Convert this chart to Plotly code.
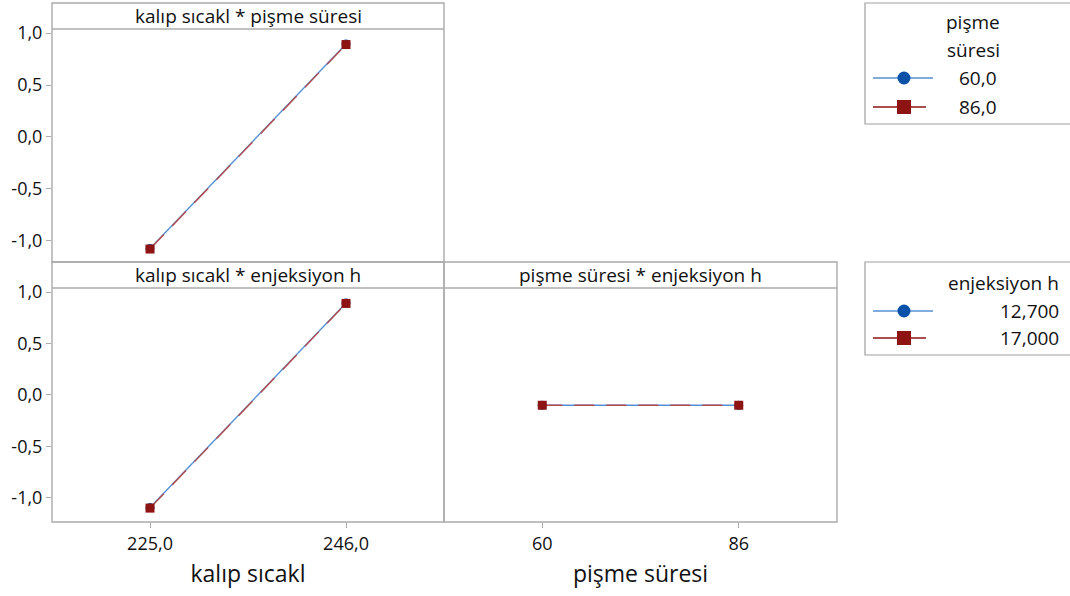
import plotly.graph_objects as go

# ---- data ----
kalip_levels = [225, 246]
pisme_levels = [60, 86]

# panel 1: kalip sicakl * pisme suresi (lines = pisme suresi levels)
p1_pisme60 = [-1.075, 0.895]
p1_pisme86 = [-1.08, 0.89]
# panel 2: kalip sicakl * enjeksiyon h (lines = enjeksiyon h levels)
p2_enj127 = [-1.095, 0.895]
p2_enj170 = [-1.10, 0.89]
# panel 3: pisme suresi * enjeksiyon h
p3_enj127 = [-0.10, -0.10]
p3_enj170 = [-0.10, -0.10]

y_tickvals = [-1.0, -0.5, 0.0, 0.5, 1.0]
y_ticktext = ["-1,0", "-0,5", "0,0", "0,5", "1,0"]
kalip_ticktext = ["225,0", "246,0"]
pisme_ticktext = ["60", "86"]
legend1_title = ["pişme", "süresi"]
legend1_labels = ["60,0", "86,0"]
legend2_title = "enjeksiyon h"
legend2_labels = ["12,700", "17,000"]
panel_titles = ["kalıp sıcakl * pişme süresi", "kalıp sıcakl * enjeksiyon h", "pişme süresi * enjeksiyon h"]

W, H = 1070, 596
def X(px): return px / W
def Y(py): return 1 - py / H

BLUE_LINE = "#5590d2"
BLUE_MK = "#0a52a8"
RED_LINE = "#b24c4c"
RED_MK = "#8e1414"
GRID = "#ababab"
FONT = "Open Sans"
TXT = "#111111"

fig = go.Figure()

def add_pair(xv, y1, y2, n1, n2, xa, ya):
    fig.add_trace(go.Scatter(x=xv, y=y1, name=n1, mode="lines+markers",
                             line=dict(color=BLUE_LINE, width=1.4),
                             marker=dict(symbol="circle", size=9, color=BLUE_MK),
                             xaxis=xa, yaxis=ya, showlegend=False))
    fig.add_trace(go.Scatter(x=xv, y=y2, name=n2, mode="lines+markers",
                             line=dict(color=RED_LINE, width=1.4, dash="20px,12px"),
                             marker=dict(symbol="square", size=9, color=RED_MK),
                             xaxis=xa, yaxis=ya, showlegend=False))

add_pair(kalip_levels, p1_pisme60, p1_pisme86, legend1_labels[0], legend1_labels[1], "x", "y")
add_pair(kalip_levels, p2_enj127, p2_enj170, legend2_labels[0], legend2_labels[1], "x2", "y2")
add_pair(pisme_levels, p3_enj127, p3_enj170, legend2_labels[0], legend2_labels[1], "x3", "y3")

tickfont = dict(family=FONT, size=18, color=TXT)
yax_common = dict(tickvals=y_tickvals, ticktext=y_ticktext, ticks="outside", ticklen=5,
                  tickcolor=GRID, showgrid=False, zeroline=False, showline=False,
                  tickfont=tickfont, automargin=False)
xax_common = dict(ticks="outside", ticklen=5, tickcolor=GRID, showgrid=False,
                  zeroline=False, showline=False, tickfont=tickfont, automargin=False)

fig.update_layout(
    width=W, height=H,
    margin=dict(l=0, r=0, t=0, b=0, pad=0, autoexpand=False),
    paper_bgcolor="white", plot_bgcolor="white",
    showlegend=False,
    xaxis=dict(domain=[X(52), X(444)], range=[214.5, 256.5], anchor="y", automargin=False,
               showticklabels=False, ticks="", showgrid=False, zeroline=False, showline=False),
    yaxis=dict(domain=[Y(262), Y(29)], range=[-1.205, 1.04], anchor="x", **yax_common),
    xaxis2=dict(domain=[X(52), X(444)], range=[214.5, 256.5], anchor="y2",
                tickvals=kalip_levels, ticktext=kalip_ticktext,
                title=dict(text="kalıp sıcakl", font=dict(family=FONT, size=23, color=TXT), standoff=12),
                **xax_common),
    yaxis2=dict(domain=[Y(522), Y(288)], range=[-1.235, 1.04], anchor="x2", **yax_common),
    xaxis3=dict(domain=[X(444), X(837)], range=[47, 99], anchor="y3",
                tickvals=pisme_levels, ticktext=pisme_ticktext,
                title=dict(text="pişme süresi", font=dict(family=FONT, size=23, color=TXT), standoff=12),
                **xax_common),
    yaxis3=dict(domain=[Y(522), Y(288)], range=[-1.235, 1.04], anchor="x3", automargin=False,
                showticklabels=False, ticks="", showgrid=False, zeroline=False, showline=False),
)

shapes = []
def rect(x0, y0, x1, y1, color=GRID, w=1.4):
    shapes.append(dict(type="rect", xref="paper", yref="paper", x0=X(x0), x1=X(x1), y0=Y(y1), y1=Y(y0),
                       line=dict(color=color, width=w), fillcolor="rgba(0,0,0,0)", layer="below"))
def hline(x0, x1, y, color=GRID, w=1.4, layer="below"):
    shapes.append(dict(type="line", xref="paper", yref="paper", x0=X(x0), x1=X(x1), y0=Y(y), y1=Y(y),
                       line=dict(color=color, width=w), layer=layer))

# panel frames and strips
rect(52, 3, 444, 262)
hline(52, 444, 29)
rect(52, 262, 444, 522)
rect(444, 262, 837, 522)
hline(52, 837, 288)

annotations = []
def text(x, y, s, size=19, xanchor="center", color=TXT):
    annotations.append(dict(xref="paper", yref="paper", x=X(x), y=Y(y), text=s, showarrow=False,
                            xanchor=xanchor, yanchor="middle", font=dict(family=FONT, size=size, color=color)))

text(248, 16, panel_titles[0])
text(248, 275, panel_titles[1])
text(640.5, 275, panel_titles[2])

# legends (drawn)
rect(865, 3, 1080, 124, color="#a0a0a0", w=1.2)
rect(865, 262, 1080, 355, color="#a0a0a0", w=1.2)

def legend_item(y, kind):
    if kind == "blue":
        hline(873, 933, y, color=BLUE_LINE, w=1.3, layer="above")
        shapes.append(dict(type="circle", xref="paper", yref="paper", x0=X(897.5), x1=X(910.5), y0=Y(y + 6.5), y1=Y(y - 6.5),
                           fillcolor=BLUE_MK, line=dict(color=BLUE_MK, width=0)))
    else:
        hline(873, 926, y, color=RED_MK, w=1.6, layer="above")
        shapes.append(dict(type="rect", xref="paper", yref="paper", x0=X(897), x1=X(911), y0=Y(y + 7), y1=Y(y - 7),
                           fillcolor=RED_MK, line=dict(color=RED_MK, width=0)))

legend_item(78, "blue")
legend_item(107, "red")
legend_item(311, "blue")
legend_item(338, "red")

text(973, 22, legend1_title[0])
text(973, 50, legend1_title[1])
text(999, 78, legend1_labels[0], xanchor="right")
text(999, 107, legend1_labels[1], xanchor="right")
text(1061, 283, legend2_title, xanchor="right")
text(1061, 311, legend2_labels[0], xanchor="right")
text(1061, 338, legend2_labels[1], xanchor="right")

fig.update_layout(shapes=shapes, annotations=annotations)
fig.write_html("out.html")
